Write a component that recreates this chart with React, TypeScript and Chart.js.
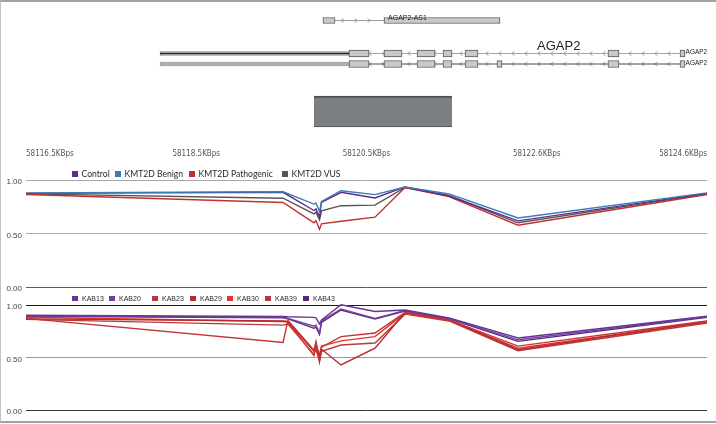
import React, { useEffect, useRef } from 'react';
import { Chart, registerables } from 'chart.js';

Chart.register(...registerables);

// ---------------- shared genomic axis (Kbp) ----------------
const axisMin = 58116.5;
const axisMax = 58124.6;
const axisTickValues = [58116.5, 58118.525, 58120.55, 58122.575, 58124.6];
const axisTickLabels = ['58116.5KBps', '58118.5KBps', '58120.5KBps', '58122.6KBps', '58124.6KBps'];

// ---------------- gene model (Kbp) ----------------
const as1Exons = [[58120.032, 58120.175], [58120.758, 58122.138]];
const as1Intron = [58120.175, 58120.758];
const agap2Utr = [58118.094, 58120.342];
const agap2IntronSpan = [58120.342, 58124.279];
const agap2ExonsA = [
  [58120.342, 58120.58], [58120.758, 58120.972], [58121.151, 58121.365], [58121.46, 58121.567],
  [58121.722, 58121.876], [58123.422, 58123.553], [58124.279, 58124.338],
];
const agap2ExonsB = [
  [58120.342, 58120.58], [58120.758, 58120.972], [58121.151, 58121.365], [58121.46, 58121.567],
  [58121.722, 58121.876], [58122.102, 58122.162], [58123.422, 58123.553], [58124.279, 58124.338],
];
const coverageBlock = [58119.925, 58121.567];
const trackRows = { as1: 2.05, txA: 5.35, txB: 6.4, block: 11.15 };
const geneLabels = [
  { text: 'AGAP2-AS1', x: 58120.806, row: 1.85, size: 7 },
  { text: 'AGAP2', x: 58122.578, row: 4.6, size: 13 },
  { text: 'AGAP2', x: 58124.345, row: 5.25, size: 6.5 },
  { text: 'AGAP2', x: 58124.345, row: 6.3, size: 6.5 },
];
// strand direction of each intron track: -1 = reverse (<), +1 = forward (>)
const intronTracks = [
  { span: as1Intron, row: trackRows.as1, strand: 1 },
  { span: agap2IntronSpan, row: trackRows.txA, strand: -1 },
  { span: agap2IntronSpan, row: trackRows.txB, strand: -1 },
];

// ---------------- chart 1: group means ----------------
const groupPositions = [58116.5, 58119.557, 58119.925, 58119.949, 58119.991, 58120.015, 58120.247, 58120.651, 58121.008, 58121.531, 58122.352, 58124.6];
const groupNames = ['Control', 'KMT2D Benign', 'KMT2D Pathogenic', 'KMT2D VUS'];
const controlValues = [0.875, 0.885, 0.715, 0.73, 0.653, 0.79, 0.885, 0.832, 0.935, 0.85, 0.618, 0.875];
const benignValues = [0.88, 0.89, 0.775, 0.785, 0.706, 0.8, 0.9, 0.863, 0.935, 0.87, 0.645, 0.88];
const pathogenicValues = [0.865, 0.79, 0.6, 0.62, 0.54, 0.59, 0.615, 0.653, 0.93, 0.845, 0.578, 0.865];
const vusValues = [0.87, 0.83, 0.684, 0.7, 0.627, 0.712, 0.76, 0.765, 0.93, 0.855, 0.6, 0.87];
const groupColors = ['#5c2d88', '#3c7ab8', '#c42f2f', '#555555'];

// ---------------- chart 2: individual samples ----------------
const samplePositions = [58116.5, 58119.557, 58119.616, 58119.925, 58119.949, 58119.991, 58120.015, 58120.247, 58120.651, 58121.008, 58121.531, 58122.352, 58124.6];
const sampleNames = ['KAB13', 'KAB20', 'KAB23', 'KAB29', 'KAB30', 'KAB39', 'KAB43'];
const kab13 = [0.905, 0.893, 0.89, 0.884, 0.88, 0.82, 0.86, 1.005, 0.94, 0.955, 0.88, 0.687, 0.895];
const kab20 = [0.9, 0.885, 0.875, 0.8, 0.81, 0.735, 0.85, 0.965, 0.875, 0.95, 0.875, 0.67, 0.89];
const kab23 = [0.875, 0.645, 0.855, 0.57, 0.64, 0.5, 0.6, 0.7, 0.735, 0.93, 0.86, 0.61, 0.85];
const kab29 = [0.87, 0.85, 0.845, 0.56, 0.65, 0.46, 0.58, 0.43, 0.59, 0.93, 0.86, 0.575, 0.845];
const kab30 = [0.885, 0.845, 0.84, 0.52, 0.62, 0.53, 0.61, 0.66, 0.7, 0.925, 0.855, 0.59, 0.84];
const kab39 = [0.865, 0.81, 0.82, 0.53, 0.58, 0.47, 0.56, 0.62, 0.64, 0.915, 0.85, 0.565, 0.83];
const kab43 = [0.895, 0.88, 0.87, 0.78, 0.79, 0.72, 0.835, 0.955, 0.868, 0.945, 0.87, 0.655, 0.885];
const sampleColors = ['#6a3592', '#7440a3', '#c53232', '#b8282c', '#e0342f', '#b53b38', '#552878'];

const yTickValues = [0, 0.5, 1];

// ---------------- layout (not data) ----------------
const W = 716;
const PLOT_LEFT = 26;
const PLOT_RIGHT_PAD = 9;
const sansNarrow = "'Liberation Sans Narrow', 'Arial Narrow', 'DejaVu Sans Condensed', sans-serif";
const sans = "'Liberation Sans', Arial, sans-serif";

const toPts = (xs: number[], ys: number[]) => xs.map((x, i) => ({ x, y: ys[i] }));
const seg = (span: number[], row: number) => [{ x: span[0], y: row }, { x: span[1], y: row }];
const bars = (list: number[][], row: number) => list.map((e) => ({ x: [e[0], e[1]], y: row }));

const geneLabelPlugin = {
  id: 'geneLabels',
  beforeDatasetsDraw(chart: any) {
    // strand chevrons along introns (decoration placed by the scales)
    const { ctx, scales } = chart;
    ctx.save();
    ctx.strokeStyle = '#8c8c8c';
    ctx.lineWidth = 0.8;
    for (const t of intronTracks) {
      const x0 = scales.x.getPixelForValue(t.span[0]);
      const x1 = scales.x.getPixelForValue(t.span[1]);
      const y = scales.y.getPixelForValue(t.row);
      for (let px = x0 + 8; px < x1 - 4; px += 13) {
        ctx.beginPath();
        ctx.moveTo(px + 1.5 * t.strand * -1, y - 2);
        ctx.lineTo(px + 1.5 * t.strand, y);
        ctx.lineTo(px + 1.5 * t.strand * -1, y + 2);
        ctx.stroke();
      }
    }
    ctx.restore();
  },
  afterDatasetsDraw(chart: any) {
    const { ctx, scales } = chart;
    ctx.save();
    ctx.fillStyle = '#222';
    ctx.textAlign = 'left';
    ctx.textBaseline = 'middle';
    for (const l of geneLabels) {
      ctx.font = `${l.size}px ${sans}`;
      ctx.fillText(l.text, scales.x.getPixelForValue(l.x), scales.y.getPixelForValue(l.row));
    }
    ctx.restore();
  },
};

function GeneTrack() {
  const ref = useRef<HTMLCanvasElement>(null);
  useEffect(() => {
    const lineDs = (data: any[], color: string, width: number, order: number) => ({
      type: 'line', data, borderColor: color, borderWidth: width, pointRadius: 0, order, clip: false,
    });
    const barDs = (data: any[], thickness: number, fill: string, border: string, order: number, bw: any = 1) => ({
      type: 'bar', indexAxis: 'y', data, barThickness: thickness, backgroundColor: fill, borderColor: border,
      borderWidth: bw, borderSkipped: false, grouped: false, order,
    });
    const chart = new Chart(ref.current!, {
      type: 'line',
      data: {
        datasets: [
          barDs(bars(as1Exons, trackRows.as1), 6, '#c9c9c9', '#5a5a5a', 0),
          barDs(bars(agap2ExonsA, trackRows.txA), 7, '#c9c9c9', '#5a5a5a', 0),
          barDs(bars(agap2ExonsB, trackRows.txB), 7, '#c9c9c9', '#5a5a5a', 0),
          barDs(bars([coverageBlock], trackRows.block), 31, '#7c7f82', '#4f5153', 0, { top: 2, bottom: 1, left: 0, right: 0 }),
          lineDs(seg(agap2Utr, trackRows.txA), '#2a2a2a', 1.5, 1),
          lineDs(seg(agap2Utr, trackRows.txB), '#8a8a8a', 1, 1),
          lineDs(seg(agap2IntronSpan, trackRows.txA), '#a5a5a5', 1, 2),
          lineDs(seg(agap2IntronSpan, trackRows.txB), '#4a4a4a', 1, 2),
          lineDs(seg(as1Intron, trackRows.as1), '#9a9a9a', 1, 2),
          barDs(bars([agap2Utr], trackRows.txA), 4, '#cfcfcf', '#8a8a8a', 3),
          barDs(bars([agap2Utr], trackRows.txB), 4, '#d6d6d6', '#9a9a9a', 3),
        ] as any,
      },
      options: {
        animation: false,
        responsive: false,
        events: [],
        layout: { autoPadding: false, padding: { left: PLOT_LEFT, right: PLOT_RIGHT_PAD, top: 0, bottom: 0 } },
        plugins: { legend: { display: false }, tooltip: { enabled: false } },
        scales: {
          x: {
            type: 'linear', min: axisMin, max: axisMax, offset: false, beginAtZero: false,
            grid: { display: false, drawTicks: false, tickLength: 0, offset: false }, border: { display: false },
            afterBuildTicks: (s: any) => { s.ticks = axisTickValues.map((v) => ({ value: v })); },
            afterFit: (s: any) => { s.height = 24; },
            ticks: {
              align: 'inner', maxRotation: 0, autoSkip: false, padding: 3, color: '#555',
              font: { size: 8, family: sansNarrow },
              callback: (_v: any, i: number) => axisTickLabels[i],
            },
          },
          y: { type: 'linear', min: 0, max: 14.6, reverse: true, display: false, offset: false, grid: { offset: false } },
        },
      } as any,
      plugins: [geneLabelPlugin],
    });
    return () => chart.destroy();
  }, []);
  return <canvas ref={ref} width={W} height={170} style={{ position: 'absolute', left: 0, top: 0 }} />;
}

function LineChart({ top, height, padTop, padBottom, yMax, positions, series, names, colors, gridColors, orders }: any) {
  const ref = useRef<HTMLCanvasElement>(null);
  useEffect(() => {
    const chart = new Chart(ref.current!, {
      type: 'line',
      data: {
        datasets: series.map((vals: number[], i: number) => ({
          label: names[i],
          data: toPts(positions, vals),
          borderColor: colors[i],
          borderWidth: 1.4,
          pointRadius: 0,
          tension: 0,
          order: orders ? orders[i] : i,
          clip: false,
        })),
      },
      options: {
        animation: false,
        responsive: false,
        events: [],
        layout: { autoPadding: false, padding: { left: 0, right: PLOT_RIGHT_PAD, top: padTop, bottom: padBottom } },
        plugins: { legend: { display: false }, tooltip: { enabled: false } },
        scales: {
          x: { type: 'linear', min: axisMin, max: axisMax, display: false },
          y: {
            type: 'linear', min: 0, max: yMax,
            afterBuildTicks: (s: any) => { s.ticks = yTickValues.map((v) => ({ value: v })); },
            afterFit: (s: any) => { s.width = PLOT_LEFT; },
            border: { display: false },
            grid: {
              drawTicks: false,
              lineWidth: 1,
              color: (c: any) => gridColors[yTickValues.indexOf(c.tick ? c.tick.value : -1)] || '#aaa',
            },
            ticks: {
              padding: 4, color: '#444', labelOffset: 2,
              font: { size: 8, family: sans },
              callback: (v: any) => Number(v).toFixed(2),
            },
          },
        },
      } as any,
    });
    return () => chart.destroy();
  }, []);
  return <canvas ref={ref} width={W} height={height} style={{ position: 'absolute', left: 0, top }} />;
}

function Legend({ names, colors, xs, y, size, font, square, gap }: any) {
  return (
    <>
      {names.map((t: string, i: number) => (
        <div
          key={t}
          style={{
            position: 'absolute', left: xs[i], top: y - 7, height: 14, display: 'flex', alignItems: 'center',
            whiteSpace: 'nowrap', fontSize: size, fontFamily: font, color: '#2a2a2a', lineHeight: '14px',
          }}
        >
          <span style={{ display: 'inline-block', width: square, height: square, background: colors[i], marginRight: gap }} />
          {t}
        </div>
      ))}
    </>
  );
}

export default function App() {
  useEffect(() => {
    document.body.style.margin = '0';
  }, []);
  return (
    <div style={{ position: 'absolute', left: 0, top: 0, width: W, height: 424, background: '#fff', overflow: 'hidden' }}>
      <GeneTrack />
      <LineChart
        top={160} height={140} padTop={20} padBottom={13} yMax={1}
        positions={groupPositions}
        series={[controlValues, benignValues, pathogenicValues, vusValues]}
        names={groupNames} colors={groupColors}
        orders={[1, 0, 2, 3]}
        gridColors={['#5a5a5a', '#a8a8a8', '#a8a8a8']}
      />
      <LineChart
        top={290} height={132} padTop={10} padBottom={12} yMax={1.05}
        positions={samplePositions}
        series={[kab13, kab20, kab23, kab29, kab30, kab39, kab43]}
        names={sampleNames} colors={sampleColors}
        gridColors={['#3a3a3a', '#9a9a9a', '#1a1a1a']}
      />
      <Legend names={groupNames} colors={groupColors} xs={[72, 115, 189, 282]} y={174} size={8.6}
        font="Lato, 'Open Sans', sans-serif" square={5.5} gap={4} />
      <Legend names={sampleNames} colors={sampleColors} xs={[72, 109, 152, 190, 227, 265, 303]} y={298.5} size={7}
        font={sans} square={5.5} gap={4.5} />
      <div style={{
        position: 'absolute', left: 0, top: 0, width: W, height: 423, boxSizing: 'border-box',
        borderTop: '2px solid #a3a3a3', borderLeft: '1px solid #c4c4c4', borderBottom: '2px solid #a3a3a3',
        pointerEvents: 'none',
      }} />
    </div>
  );
}
